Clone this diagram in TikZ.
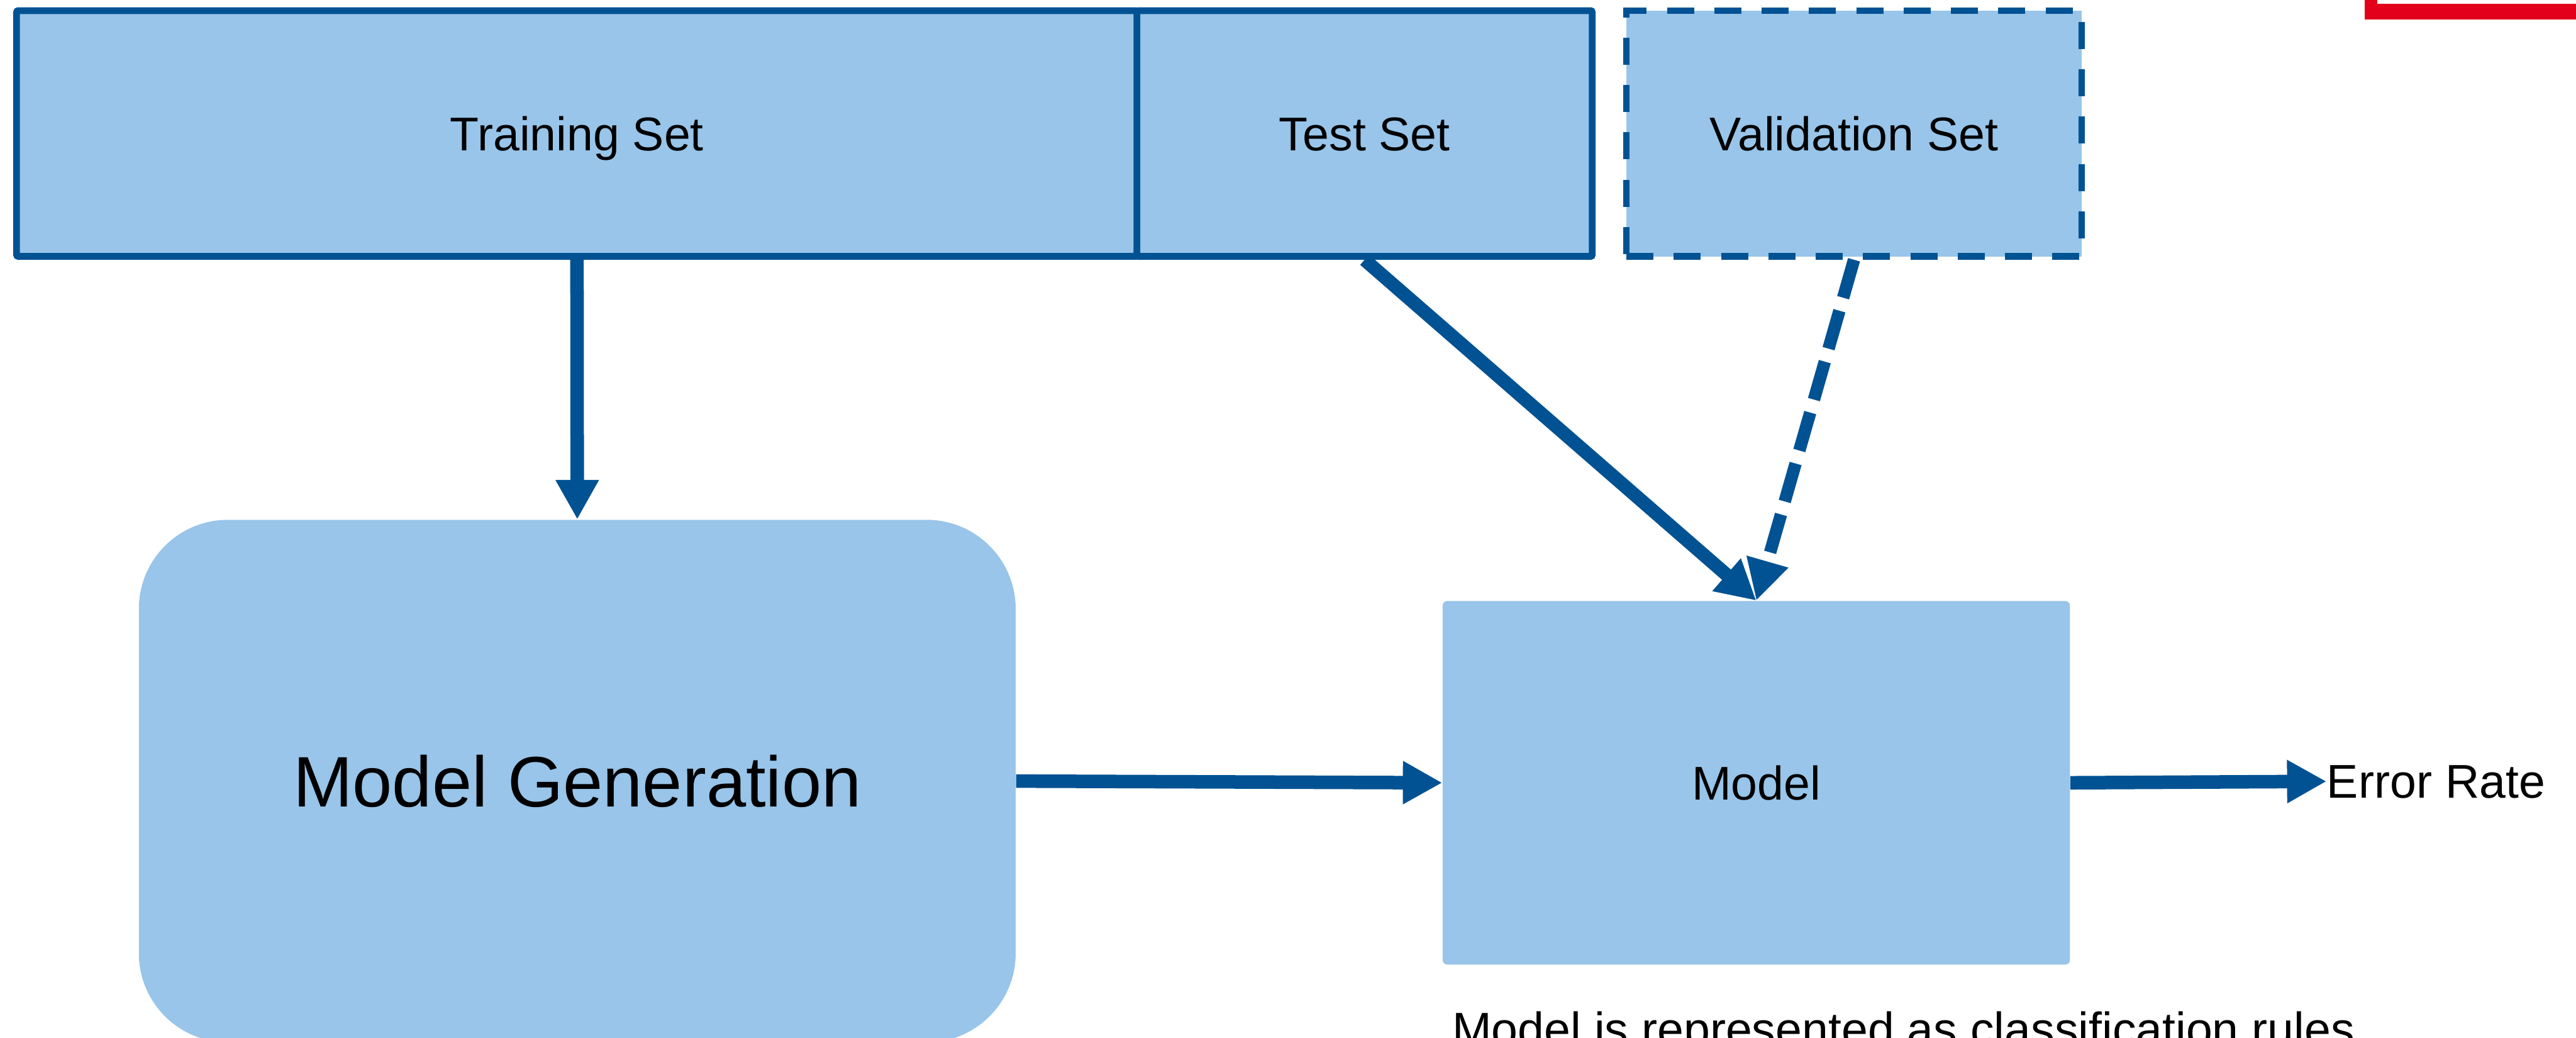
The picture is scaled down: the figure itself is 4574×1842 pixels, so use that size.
\documentclass[tikz,border=0pt]{standalone}
\usepackage{fontspec}
\setmainfont{Liberation Sans}
\usetikzlibrary{arrows.meta}
\definecolor{boxfill}{RGB}{152,197,233}
\definecolor{boxline}{RGB}{0,82,147}
\definecolor{framered}{RGB}{226,0,26}
\tikzset{
  lbl/.style={font=\fontsize{23.9pt}{28pt}\selectfont, text height=0.60cm, text depth=0cm},
  setbox/.style={draw=boxline, fill=boxfill, line width=0.12cm, rounded corners=0.03cm,
    inner sep=0pt, minimum height=4.36cm, lbl},
  valbox/.style={setbox, dash pattern=on 0.48cm off 0.36cm, rounded corners=0cm},
  plainbox/.style={fill=boxfill, inner sep=0pt},
  arr/.style={draw=boxline, line width=0.24cm, -{Triangle[length=0.70cm, width=0.72cm]}},
  dasharr/.style={draw=boxline, line width=0.22cm, dash pattern=on 0.70cm off 0.24cm,
    -{Triangle[length=0.72cm, width=0.72cm]}}
}
\begin{document}
\begin{tikzpicture}[x=0.01cm, y=-0.01cm]
\useasboundingbox (0,0) rectangle (4574,1842);
% red frame corner (top right)
\fill[framered] (4199,0) rectangle (4221,35);
\fill[framered] (4199,7) rectangle (4574,35);
% top row
\node[setbox, minimum width=19.89cm] (train) at (1024.5,237) {Training Set};
\node[setbox, minimum width=8.08cm] (test) at (2423,237) {Test Set};
\node[valbox, minimum width=8.08cm] (val) at (3292,237) {Validation Set};
% lower boxes
\node[plainbox, rounded corners=1.58cm, minimum width=15.56cm, minimum height=9.27cm,
  font=\fontsize{36.1pt}{43pt}\selectfont, text height=0.91cm, text depth=0cm]
  (mg) at (1025,1386.5) {Model Generation};
\node[plainbox, rounded corners=0.08cm, minimum width=11.13cm, minimum height=6.45cm, lbl]
  (model) at (3118.5,1389.5) {Model};
\node[lbl, inner sep=0pt, anchor=west] (err) at (4131,1387) {Error Rate};
\node[font=\fontsize{23.9pt}{28pt}\selectfont, inner sep=0pt, anchor=base west]
  (note) at (2578,1857) {Model is represented as classification rules};
% connectors
\draw[arr] (train.south) -- (mg.north);
\draw[arr] (test.south) -- (model.north);
\draw[dasharr] (val.south) -- (model.north);
\draw[arr] (mg.east) -- (model.west);
\draw[arr] (model.east) -- (err.west);
\end{tikzpicture}
\end{document}
